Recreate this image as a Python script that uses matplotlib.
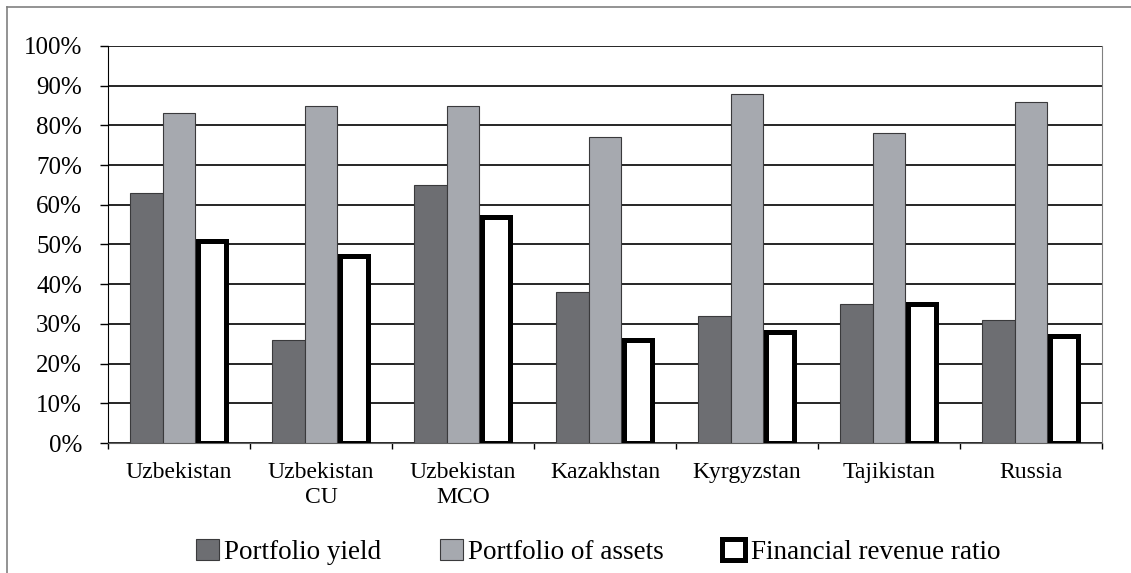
import matplotlib.pyplot as plt
import numpy as np
from matplotlib.patches import Rectangle
from matplotlib.lines import Line2D

countries = ["Uzbekistan", "Uzbekistan\nCU", "Uzbekistan\nMCO", "Kazakhstan",
             "Kyrgyzstan", "Tajikistan", "Russia"]
portfolio_yield = [63, 26, 65, 38, 32, 35, 31]
portfolio_assets = [83, 85, 85, 77, 88, 78, 86]
fin_revenue = [51, 47, 57, 26, 28, 35, 27]

plt.rcParams['font.family'] = ['Liberation Serif', 'DejaVu Serif']

fig = plt.figure(figsize=(11.31, 5.73), dpi=100)
ax = fig.add_axes([108 / 1131, 1 - 443 / 573, 994 / 1131, 397 / 573])

x = np.arange(len(countries))
w = 0.232
ax.bar(x - w, portfolio_yield, w, color="#6d6e72", edgecolor="#3a3a3c", linewidth=0.8,
       label="Portfolio yield", zorder=3)
ax.bar(x, portfolio_assets, w, color="#a6a9af", edgecolor="#3a3a3c", linewidth=0.8,
       label="Portfolio of assets", zorder=3)
ax.bar(x + w, fin_revenue, 0.2, color="white", edgecolor="black", linewidth=3.6,
       label="Financial revenue ratio", zorder=3)

ax.set_xlim(-0.5, len(countries) - 0.5)
ax.set_ylim(0, 100)
ax.set_yticks(np.arange(0, 101, 10))
ax.set_yticklabels([f"{v}%" for v in range(0, 101, 10)], fontsize=18)
ax.yaxis.grid(True, color="black", linewidth=1.2, zorder=0)
ax.set_axisbelow(True)

ax.set_xticks(x)
ax.set_xticklabels(countries, fontsize=17, linespacing=1.2)
ax.set_xticks(np.arange(-0.5, len(countries), 1), minor=True)
ax.tick_params(axis='x', which='major', length=0, pad=14)
ax.tick_params(axis='x', which='minor', length=4.5, width=1, direction='out')
ax.tick_params(axis='y', length=5.8, width=1, direction='out', pad=13)

ax.spines['top'].set_visible(False)
ax.spines['left'].set_color("black")
ax.spines['right'].set_color("#808080")
ax.spines['bottom'].set_color("#606060")

handles = [Rectangle((0, 0), 1, 1, facecolor="#6d6e72", edgecolor="#3a3a3c", linewidth=0.8),
           Rectangle((0, 0), 1, 1, facecolor="#a6a9af", edgecolor="#3a3a3c", linewidth=0.8),
           Rectangle((0, 0), 1, 1, facecolor="white", edgecolor="black", linewidth=3.6)]
fig.legend(handles, ["Portfolio yield", "Portfolio of assets", "Financial revenue ratio"],
           loc="center", bbox_to_anchor=(598 / 1131, 1 - 552 / 573), ncol=3, frameon=False,
           fontsize=19.5, handlelength=0.85, handleheight=0.8, handletextpad=0.2,
           columnspacing=2.15, borderpad=0)

# outer border of the figure (top and left visible)
fig.add_artist(Line2D([7 / 1131, 7 / 1131], [0, 1 - 7 / 573], transform=fig.transFigure,
                      color="#808080", linewidth=1.2))
fig.add_artist(Line2D([7 / 1131, 1], [1 - 7 / 573, 1 - 7 / 573], transform=fig.transFigure,
                      color="#808080", linewidth=1.2))

fig.savefig("out.png", dpi=100)
